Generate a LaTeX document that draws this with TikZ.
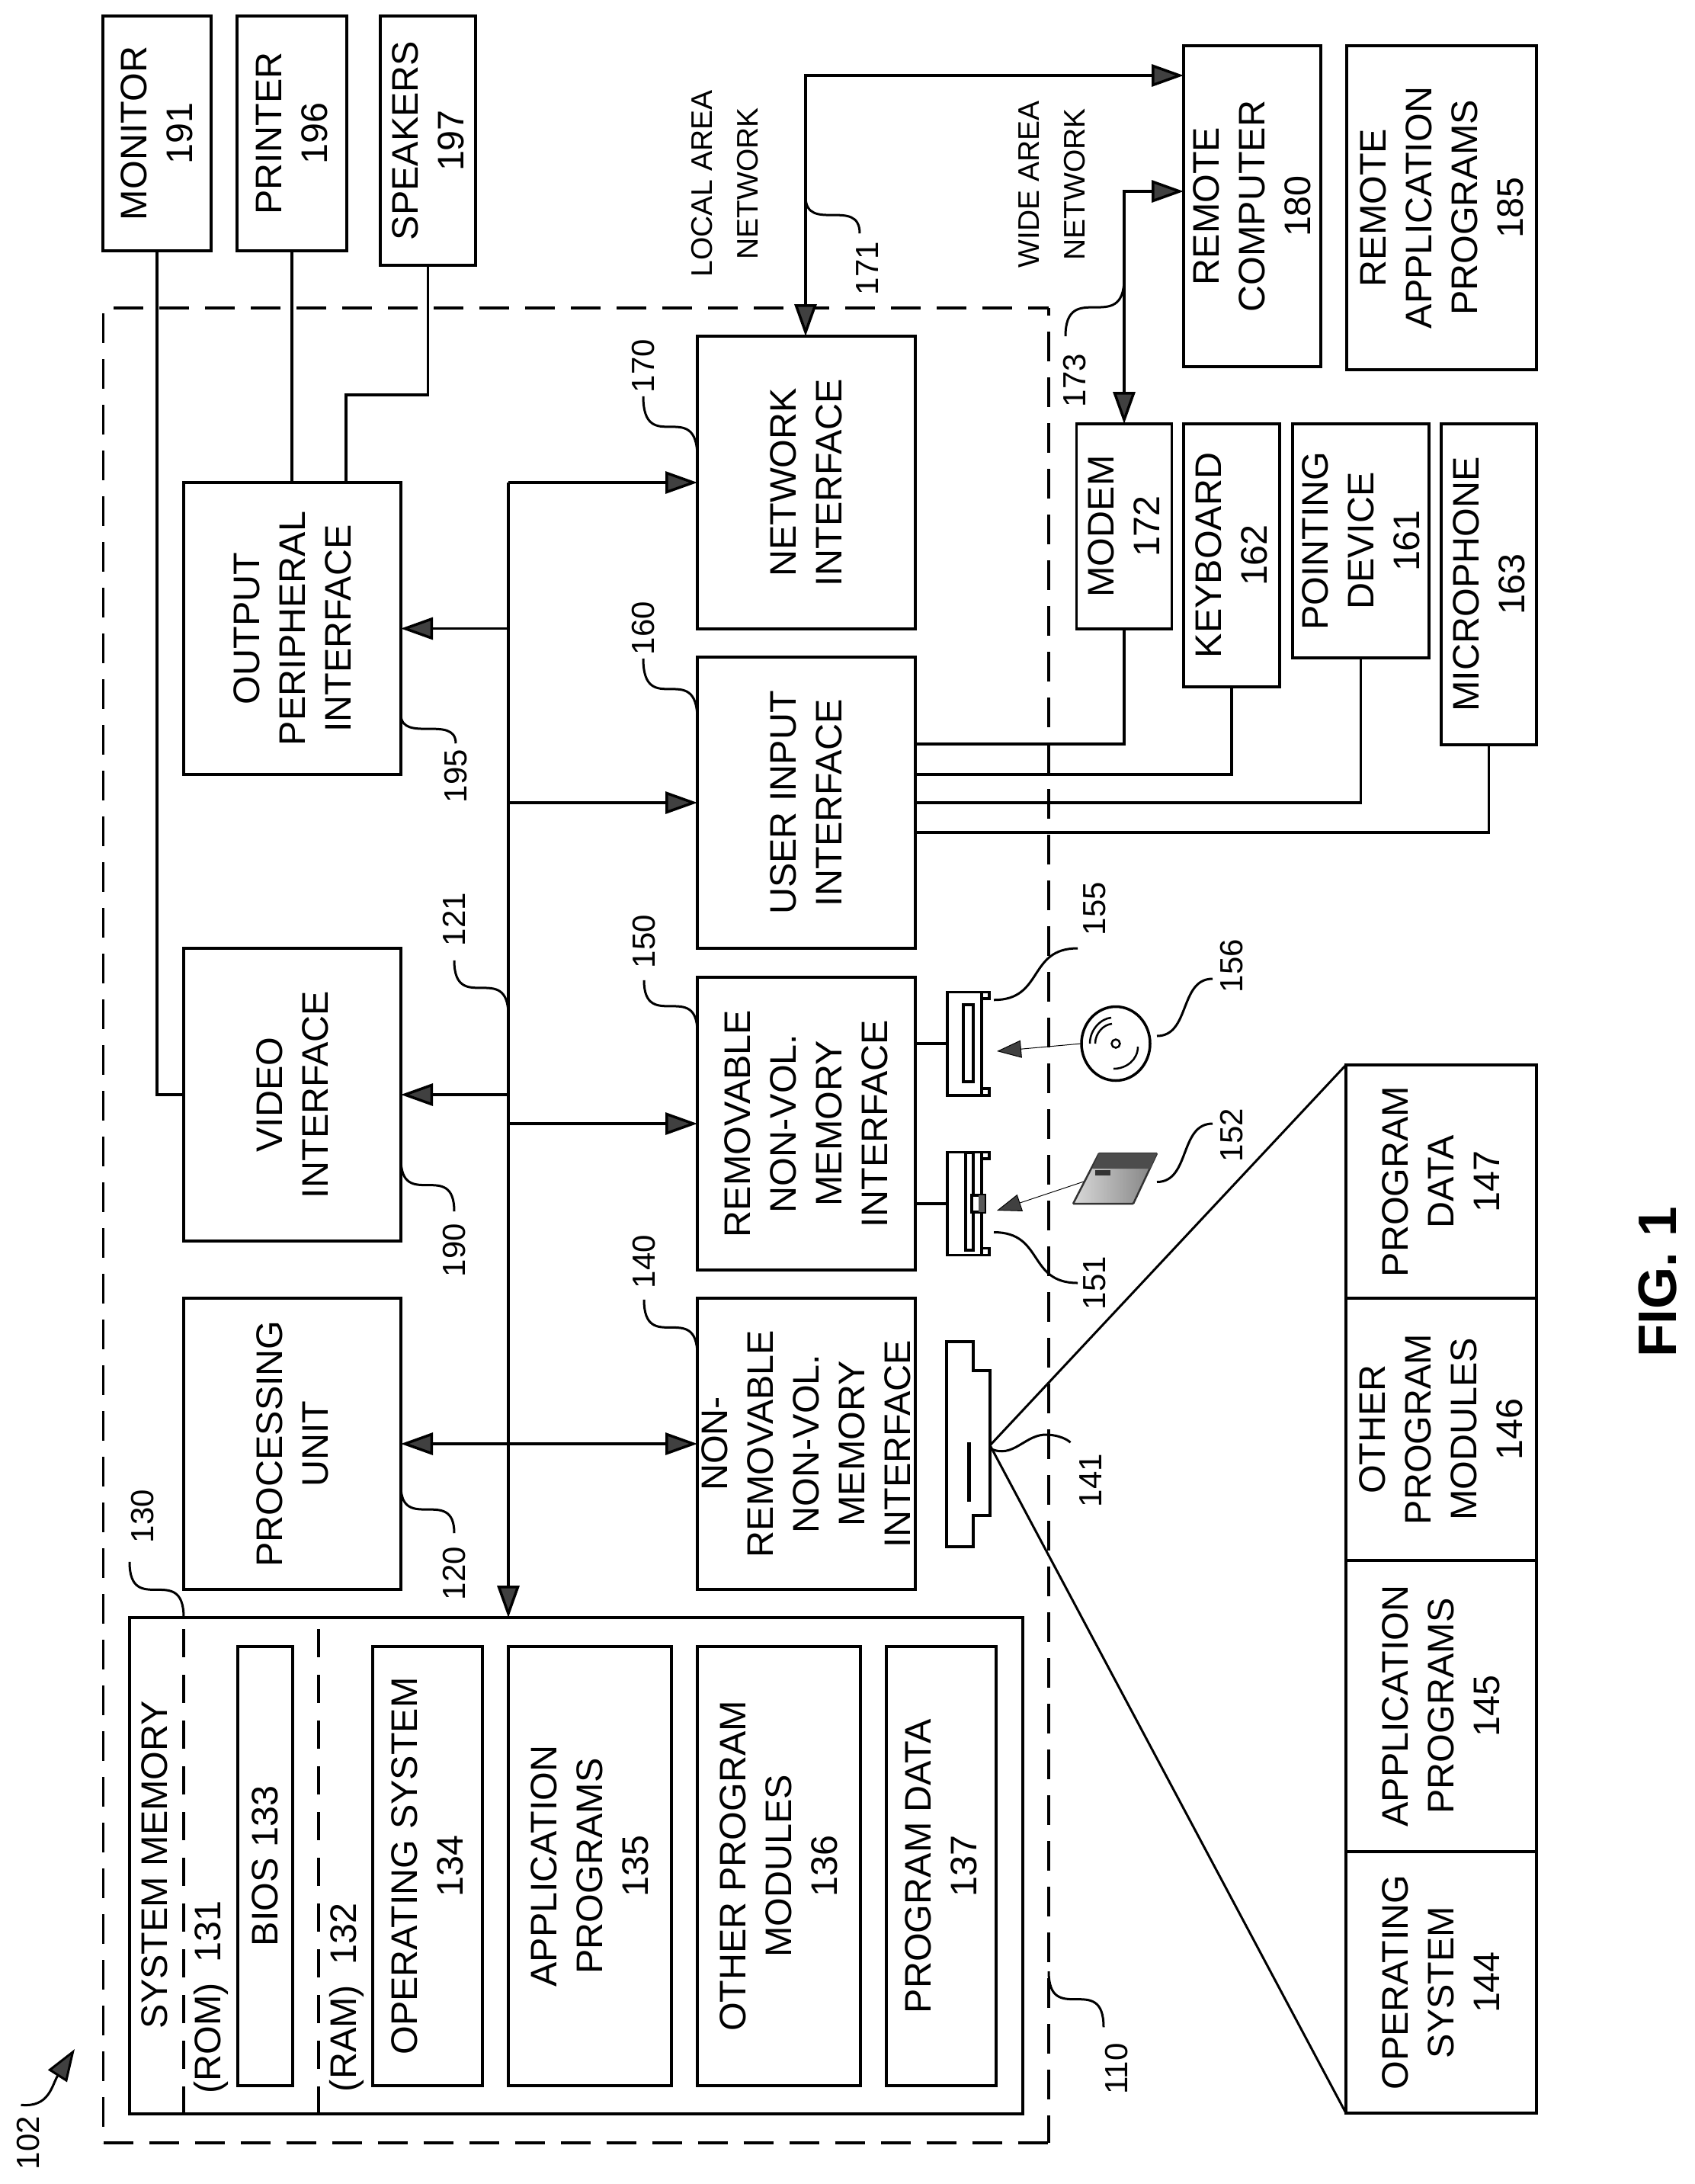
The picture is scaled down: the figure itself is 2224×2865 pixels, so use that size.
\documentclass[tikz,border=0pt]{standalone}
\usepackage{fontspec}
\setmainfont{Liberation Sans}
\usetikzlibrary{arrows.meta,calc,shapes}

\begin{document}
\begin{tikzpicture}[x=1pt,y=-1pt]
\edef\sizeline{3.5pt}
\tikzstyle{every path}=[line width=\sizeline]
\tikzstyle{unitbox}=[draw,rotate=90,align=center,inner sep=0pt,outer sep=0pt,font=\fontsize{48.5}{60}\selectfont]
\tikzstyle{reflabel}=[rotate=90,inner sep=0pt,font=\fontsize{42}{50}\selectfont]
\tikzstyle{netlabel}=[rotate=90,align=center,inner sep=0pt,font=\fontsize{39}{60}\selectfont]
\tikzstyle{outerline}=[dash pattern=on 39pt off 21pt]
\tikzstyle{memline}=[dash pattern=on 37pt off 23pt,dash phase=45pt]
\tikzstyle{driveframe}=[draw,inner sep=0pt,outer sep=0pt]
\tikzstyle{leader}=[line width=3pt]
\tikzstyle{vleader}=[to path={.. controls (\tikztostart |- \tikztotarget) and (\tikztotarget |- \tikztostart) .. (\tikztotarget)}]
\tikzstyle{hleader}=[to path={.. controls ($(\tikztostart)!0.6!(\tikztotarget |- \tikztostart)$) and ($(\tikztotarget)!0.6!(\tikztostart |- \tikztotarget)$) .. (\tikztotarget)}]
\tikzstyle{thinarrow}=[line width=1pt,-{Triangle[length=32pt,width=23pt,fill=black!75]}]
\tikzset{>={Triangle[length=42pt,width=29pt,fill=black!75]}}
\useasboundingbox (0,0) rectangle (2224,2865);

\node [inner sep=0pt,outer sep=0pt,minimum width=1240.5pt,minimum height=2407pt] (comp) at (755.75,1607.5) {};
\draw [outerline,dash phase=46.5pt] (comp.north west) -- (comp.north east);
\draw [outerline,dash phase=29pt] (comp.north east) -- (comp.south east);
\draw [outerline] (comp.south west) -- (comp.south east);
\draw [outerline,dash phase=53pt] (comp.north west) -- (comp.south west);

\node [unitbox,minimum width=308pt,minimum height=142pt] (monitor) at (206,175) {MONITOR\\191};
\node [unitbox,minimum width=308pt,minimum height=144pt] (printer) at (383,175) {PRINTER\\196};
\node [unitbox,minimum width=327pt,minimum height=125pt] (speakers) at (561.5,184.5) {SPEAKERS\\197};

\node [unitbox,minimum width=383pt,minimum height=285pt] (opi) at (383.5,824.5) {OUTPUT\\PERIPHERAL\\INTERFACE};
\node [unitbox,minimum width=384pt,minimum height=285pt] (vid) at (383.5,1436) {VIDEO\\INTERFACE};
\node [unitbox,minimum width=382pt,minimum height=285pt] (proc) at (383.5,1894) {PROCESSING\\UNIT};

\node [unitbox,minimum width=384pt,minimum height=286pt] (nic) at (1058,633) {NETWORK\\INTERFACE};
\node [unitbox,minimum width=382pt,minimum height=286pt] (uii) at (1058,1053) {USER INPUT\\INTERFACE};
\node [unitbox,minimum width=384pt,minimum height=286pt] (rem) at (1058,1474) {REMOVABLE\\NON-VOL.\\MEMORY\\INTERFACE};
\node [unitbox,minimum width=382pt,minimum height=286pt] (nrm) at (1058,1894) {NON-\\REMOVABLE\\NON-VOL.\\MEMORY\\INTERFACE};

\node [unitbox,minimum width=651pt,minimum height=1172pt] (sysmem) at (756,2447.5) {};
\node [unitbox,minimum width=576pt,minimum height=72pt] (bios) at (348,2448) {BIOS 133};
\node [unitbox,minimum width=576pt,minimum height=144pt] (os) at (561,2448) {OPERATING SYSTEM\\134};
\node [unitbox,minimum width=576pt,minimum height=214pt] (apps) at (774,2448) {APPLICATION\\PROGRAMS\\135};
\node [unitbox,minimum width=576pt,minimum height=214pt] (mods) at (1022,2448) {OTHER PROGRAM\\MODULES\\136};
\node [unitbox,minimum width=576pt,minimum height=144pt] (pdata) at (1235,2448) {PROGRAM DATA\\137};
\node [unitbox,draw=none] (sysname) at (203,2446) {SYSTEM MEMORY};
\node [unitbox,draw=none] (romname) at (277,2620) {(ROM)\ \ 131};
\node [unitbox,draw=none] (ramname) at (455,2620) {(RAM)\ \ 132};

\node [unitbox,minimum width=421pt,minimum height=180pt] (remote) at (1643,270.5) {REMOTE\\COMPUTER\\180};
\node [unitbox,minimum width=425pt,minimum height=249pt] (remapps) at (1891.5,272.5) {REMOTE\\APPLICATION\\PROGRAMS\\185};
\node [unitbox,minimum width=269pt,minimum height=125pt] (modem) at (1475,690.5) {MODEM\\172};
\node [unitbox,minimum width=345pt,minimum height=126pt] (keyboard) at (1616,728.5) {KEYBOARD\\162};
\node [unitbox,minimum width=307pt,minimum height=179pt] (pointer) at (1785.5,709.5) {POINTING\\DEVICE\\161};
\node [unitbox,minimum width=421pt,minimum height=125pt] (micro) at (1953.5,766.5) {MICROPHONE\\163};

\node [unitbox,minimum width=343pt,minimum height=250pt] (cellos) at (1891,2600.5) {OPERATING\\SYSTEM\\144};
\node [unitbox,minimum width=382pt,minimum height=250pt,anchor=west] (cellapps) at (cellos.east) {APPLICATION\\PROGRAMS\\145};
\node [unitbox,minimum width=344pt,minimum height=250pt,anchor=west] (cellmods) at (cellapps.east) {OTHER\\PROGRAM\\MODULES\\146};
\node [unitbox,minimum width=306pt,minimum height=250pt,anchor=west] (celldata) at (cellmods.east) {PROGRAM\\DATA\\147};

\node [netlabel] (lan) at (951,241) {LOCAL AREA\\NETWORK};
\node [netlabel] (wan) at (1380,242) {WIDE AREA\\NETWORK};

\node [reflabel] (lbl102) at (37.5,2811) {102};
\node [reflabel] (lbl110) at (1465,2714) {110};
\node [reflabel] (lbl120) at (596,2064) {120};
\node [reflabel] (lbl121) at (596,1206) {121};
\node [reflabel] (lbl130) at (187.5,1989) {130};
\node [reflabel] (lbl140) at (845,1655) {140};
\node [reflabel] (lbl141) at (1431,1942) {141};
\node [reflabel] (lbl150) at (845,1235) {150};
\node [reflabel] (lbl151) at (1436,1683) {151};
\node [reflabel] (lbl152) at (1616,1489) {152};
\node [reflabel] (lbl155) at (1436,1192) {155};
\node [reflabel] (lbl156) at (1616,1267) {156};
\node [reflabel] (lbl160) at (844,824) {160};
\node [reflabel] (lbl170) at (844,480) {170};
\node [reflabel] (lbl171) at (1138,352) {171};
\node [reflabel] (lbl173) at (1410,499) {173};
\node [reflabel] (lbl190) at (596,1640) {190};
\node [reflabel] (lbl195) at (598,1018) {195};
\node [rotate=90,inner sep=0pt,font=\fontsize{71}{80}\selectfont\bfseries] (fig) at (2175,1682) {FIG. 1};

\coordinate (bustop) at (667,633);
\coordinate (bus121) at (667,1332);
\coordinate (lancorner) at (1057,99);
\coordinate (romtop) at (241,2122);
\coordinate (ramtop) at (418,2122);
\coordinate (hddtip) at (1299,1896);
\coordinate (spkbend) at (454,518);
\coordinate (tip102) at (98,2688);

\draw (monitor.west) |- (vid.north);
\draw (printer.west) -- (printer.west |- opi.east);
\draw (speakers.west) |- (spkbend) -- (spkbend |- opi.east);

\draw [->] (bustop) -- (nic.north);
\draw [->] (bustop) -- (bustop |- sysmem.east);
\draw [->] (bustop |- opi.center) -- (opi.south);
\draw [->] (bustop |- vid.center) -- (vid.south);
\draw [->] (bustop |- uii.center) -- (uii.north);
\draw [->] (bustop |- rem.center) -- (rem.north);
\draw [<->] (proc.south) -- (nrm.north);

\draw [<->] (nic.east -| lancorner) -- (lancorner) -- (lancorner -| remote.north);
\draw [<->] (modem.east) |- ([yshift=19.5pt]remote.north);

\draw (modem.west) |- ([yshift=77pt]uii.south);
\draw (keyboard.west) |- ([yshift=37pt]uii.south);
\draw (pointer.west) |- (uii.south);
\draw (micro.west) |- ([yshift=-39pt]uii.south);

\draw [memline] (romtop) -- (romtop |- sysmem.west);
\draw [memline] (ramtop) -- (ramtop |- sysmem.west);

\node [driveframe,minimum width=45pt,minimum height=135.5pt] (drvopt) at (1265.5,1369) {};
\node [driveframe,minimum width=13pt,minimum height=101pt] (slotopt) at (1270.5,1368.5) {};
\draw (drvopt.north east) -- ++(10,0) -- ++(0,8.5) -- ++(-10,0);
\draw (drvopt.south east) -- ++(10,0) -- ++(0,-9) -- ++(-10,0);
\draw (rem.south |- drvopt.west) -- (drvopt.west);

\node [driveframe,minimum width=45pt,minimum height=135pt] (drvmag) at (1265.5,1579) {};
\node [driveframe,minimum width=10pt,minimum height=128pt] (slotmag) at (1272,1576) {};
\node [driveframe,fill=white,minimum width=17pt,minimum height=22pt] (traymag) at (1283.5,1579) {};
\fill [black!65] (traymag.north) rectangle (traymag.south east);
\draw (drvmag.north east) -- ++(10,0) -- ++(0,8.5) -- ++(-10,0);
\draw (drvmag.south east) -- ++(10,0) -- ++(0,-9) -- ++(-10,0);
\draw (rem.south |- drvmag.west) -- (drvmag.west);

\draw (1242,1760) -- (1277,1760) -- (1277,1798) -- (1299,1798) -- (1299,1988) -- (1277,1988) -- (1277,2029) -- (1242,2029) -- cycle;
\draw [line width=5pt] (1271,1892) -- (1271,1970);
\draw [leader] (hddtip) -- (celldata.north east);
\draw [leader] (hddtip) -- (cellos.north west);

\node [draw,ellipse,inner sep=0pt,outer sep=0pt,minimum width=90pt,minimum height=97pt] (disc) at (1464,1369) {};
\node [draw,circle,inner sep=0pt,minimum size=11pt,line width=2.5pt] (dischub) at (disc.center) {};
\draw [line width=2.5pt] (1430,1369) .. controls (1430,1350) and (1445,1336) .. (1458,1335);
\draw [line width=2.5pt] (1437,1369) .. controls (1437,1355) and (1448,1344) .. (1459,1343);
\draw [line width=2.5pt] (1461,1402) .. controls (1478,1402) and (1493,1390) .. (1493,1373);
\coordinate (tipdisc) at (1308,1379);
\draw [thinarrow] (disc.west) -- (tipdisc);

\shadedraw [left color=black!15,right color=black!50,draw=black!80,line width=2.5pt,rounded corners=1pt] (1442,1513) -- (1518,1513) -- (1487,1579) -- (1408,1579) -- cycle;
\fill [black!70] (1442,1513) -- (1518,1513) -- (1509,1533) -- (1433,1533) -- cycle;
\fill [black!80] (1437,1535) rectangle (1457,1542);
\coordinate (cardwest) at (1422,1550);
\coordinate (cardeast) at (1518,1550.5);
\coordinate (tipcard) at (1308,1588);
\draw [thinarrow] (cardwest) -- (tipcard);

\draw [leader] ([yshift=-3pt]lbl170.west) to[vleader] ([yshift=33pt]nic.north);
\draw [leader] ([yshift=-3pt]lbl160.west) to[vleader] ([yshift=109pt]uii.north);
\draw [leader] ([yshift=-112.5pt]opi.south) to[vleader] ([yshift=6pt]lbl195.east);
\draw [leader] ([yshift=-17pt]lbl121.west) to[vleader] (bus121);
\draw [leader] ([yshift=-84pt]vid.south) to[vleader] ([yshift=14pt]lbl190.east);
\draw [leader] ([yshift=-14pt]lbl150.west) to[vleader] ([yshift=120pt]rem.north);
\draw [leader] ([yshift=-13pt]lbl140.west) to[vleader] ([yshift=116pt]nrm.north);
\draw [leader] ([yshift=-55pt]proc.south) to[vleader] ([yshift=16pt]lbl120.east);
\draw [leader] ([xshift=-17.5pt,yshift=-23pt]lbl130.west) to[vleader] (romtop);
\draw [leader] ([yshift=-978.5pt]comp.east) to[vleader] ([xshift=-17pt,yshift=19.5pt]lbl110.east);
\draw [leader] ([yshift=-159pt]lancorner) to[vleader] ([xshift=-10pt,yshift=9pt]lbl171.east);
\draw [leader] ([yshift=191pt]modem.east) to[vleader] ([xshift=-12pt,yshift=21pt]lbl173.east);
\draw [leader] ([xshift=16pt,yshift=-10.5pt]drvopt.north east) to[hleader] ([xshift=-22pt,yshift=-52pt]lbl155.center);
\draw [leader] ([xshift=16pt,yshift=30pt]drvmag.south east) to[hleader] ([xshift=-22pt]lbl151.center);
\draw [leader] ([xshift=9pt,yshift=10pt]disc.east) to[hleader] ([xshift=-25pt,yshift=-17pt]lbl156.center);
\draw [leader] (cardeast) to[hleader] ([xshift=-25pt,yshift=15pt]lbl152.center);
\draw [leader] ([yshift=-4pt]hddtip) .. controls (1330,1915) and (1345,1880) .. (1375,1882) .. controls (1390,1883) and (1400,1888) .. ([xshift=-26.5pt,yshift=13pt]lbl141.east);
\draw [leader,->] ([xshift=-10pt,yshift=13pt]lbl102.east) .. controls (65,2765) and (68,2735) .. (tip102);
\end{tikzpicture}
\end{document}
